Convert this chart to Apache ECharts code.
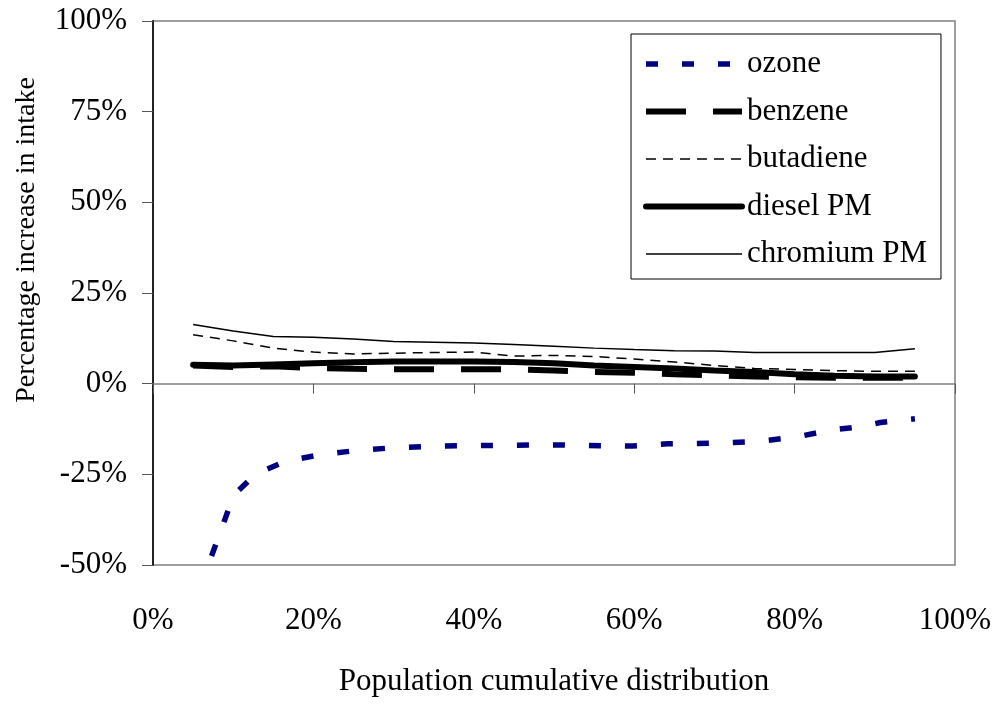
<!DOCTYPE html>
<html>
<head>
<meta charset="utf-8">
<script src="https://cdn.jsdelivr.net/npm/echarts@6/dist/echarts.min.js"></script>
<style>
html,body{margin:0;padding:0;background:#fff;}
#chart{width:1003px;height:705px;}
</style>
</head>
<body>
<div id="chart"></div>
<script>
// ---- data (percent) ----
var xTickLabels = ['0%', '20%', '40%', '60%', '80%', '100%'];
var yTickLabels = ['-50%', '-25%', '0%', '25%', '50%', '75%', '100%'];
var seriesNames = ['ozone', 'benzene', 'butadiene', 'diesel PM', 'chromium PM'];

var ozoneX = [7.3, 8.6, 10, 10.7, 12.75, 16.5, 20.9, 25.5, 29.8, 34.2, 38.6, 43.4, 47.8, 50.9, 55.7, 59.8, 64.2, 69.6, 75, 80, 84.2, 88.4, 90.7, 94.2, 95];
var ozoneY = [-47.5, -39.7, -31, -29.4, -25, -21.4, -19.6, -18.4, -17.7, -17.3, -17.1, -17, -16.9, -16.9, -17.1, -17.2, -16.6, -16.4, -16, -14.8, -12.9, -11.8, -10.7, -9.9, -9.7];

var popX = [5, 10, 15, 20, 25, 30, 35, 40, 45, 50, 55, 60, 65, 70, 75, 80, 85, 90, 95];
var benzeneY = [5.0, 4.6, 4.8, 4.3, 4.1, 4.0, 4.0, 4.0, 4.0, 3.6, 3.2, 3.0, 2.6, 2.3, 2.0, 1.8, 1.6, 1.6, 1.6];
var butadieneY = [13.5, 11.8, 9.8, 8.7, 8.2, 8.4, 8.6, 8.7, 7.6, 7.8, 7.5, 6.8, 6.0, 5.0, 4.2, 3.9, 3.6, 3.4, 3.4];
var dieselY = [5.2, 5.0, 5.3, 5.6, 5.9, 6.1, 6.1, 6.1, 6.0, 5.6, 5.0, 4.6, 4.2, 3.6, 3.2, 2.6, 2.2, 2.0, 2.0];
var chromiumY = [16.3, 14.5, 13.0, 12.8, 12.3, 11.6, 11.4, 11.2, 10.8, 10.3, 9.8, 9.4, 9.1, 9.0, 8.6, 8.6, 8.6, 8.6, 9.6];

function pairs(xs, ys) {
  return xs.map(function (x, i) { return [x, ys[i]]; });
}

var FONT = "'Liberation Serif', 'Times New Roman', serif";
var chart = echarts.init(document.getElementById('chart'), null, { renderer: 'canvas' });

var option = {
  backgroundColor: '#ffffff',
  animation: false,
  grid: {
    left: 153, top: 21, right: 48, bottom: 140,
    show: true, borderColor: '#808080', borderWidth: 1.5, backgroundColor: 'transparent'
  },
  legend: {
    orient: 'vertical',
    left: 631, top: 34,
    padding: [12, 14, 7, 12],
    itemGap: 11.5,
    itemWidth: 96, itemHeight: 14,
    borderColor: '#000', borderWidth: 1,
    backgroundColor: '#fff',
    data: seriesNames,
    itemStyle: { color: 'transparent', borderWidth: 0, opacity: 0 },
    lineStyle: { width: 'inherit', type: 'inherit', color: 'inherit' },
    textStyle: { fontFamily: FONT, fontSize: 31, color: '#000', lineHeight: 36 }
  },
  xAxis: [
    {
      type: 'value', min: 0, max: 100, interval: 20,
      axisLine: { show: true, onZero: true, lineStyle: { color: '#808080', width: 1.5 } },
      axisTick: { show: true, length: 10, lineStyle: { color: '#555', width: 1 } },
      axisLabel: { show: false },
      splitLine: { show: false }
    },
    {
      type: 'value', min: 0, max: 100, interval: 20, position: 'bottom',
      axisLine: { show: false, onZero: false },
      axisTick: { show: false },
      splitLine: { show: false },
      axisLabel: {
        show: true, margin: 40,
        fontFamily: FONT, fontSize: 31, color: '#000',
        formatter: function (v) { return xTickLabels[Math.round(v / 20)]; }
      },
      name: 'Population cumulative distribution',
      nameLocation: 'middle', nameGap: 101,
      nameTextStyle: { fontFamily: FONT, fontSize: 31, color: '#000' }
    }
  ],
  yAxis: {
    type: 'value', min: -50, max: 100, interval: 25,
    axisLine: { show: true, lineStyle: { color: '#222', width: 2 } },
    axisTick: { show: true, length: 11, lineStyle: { color: '#555', width: 1 } },
    splitLine: { show: false },
    axisLabel: {
      margin: 26, fontFamily: FONT, fontSize: 31, color: '#000',
      formatter: function (v) { return yTickLabels[Math.round((v + 50) / 25)]; }
    }
  },
  graphic: [{
    type: 'text',
    x: 27, y: 240,
    rotation: Math.PI / 2,
    style: {
      text: 'Percentage increase in intake',
      fontFamily: FONT, fontSize: 28, fill: '#000',
      align: 'center', verticalAlign: 'middle'
    }
  }],
  series: [
    {
      name: seriesNames[0], type: 'line', xAxisIndex: 0, showSymbol: false, symbol: 'none',
      data: pairs(ozoneX, ozoneY), z: 5,
      itemStyle: { color: '#000080' },
      lineStyle: { color: '#000080', width: 5.5, type: [12, 24] }
    },
    {
      name: seriesNames[1], type: 'line', xAxisIndex: 0, showSymbol: false, symbol: 'none',
      data: pairs(popX, benzeneY), z: 4,
      itemStyle: { color: '#000' },
      lineStyle: { color: '#000', width: 6, type: [40, 27] }
    },
    {
      name: seriesNames[2], type: 'line', xAxisIndex: 0, showSymbol: false, symbol: 'none',
      data: pairs(popX, butadieneY), z: 3,
      itemStyle: { color: '#000' },
      lineStyle: { color: '#000', width: 1.5, type: [10, 7] }
    },
    {
      name: seriesNames[3], type: 'line', xAxisIndex: 0, showSymbol: false, symbol: 'none',
      data: pairs(popX, dieselY), z: 3,
      itemStyle: { color: '#000' },
      lineStyle: { color: '#000', width: 6, type: 'solid', cap: 'round' }
    },
    {
      name: seriesNames[4], type: 'line', xAxisIndex: 0, showSymbol: false, symbol: 'none',
      data: pairs(popX, chromiumY), z: 3,
      itemStyle: { color: '#000' },
      lineStyle: { color: '#000', width: 1.5, type: 'solid' }
    }
  ]
};
chart.setOption(option);
</script>
</body>
</html>
